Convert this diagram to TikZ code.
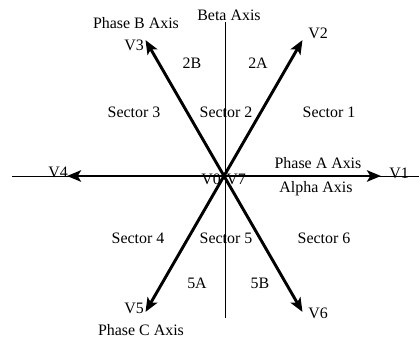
\documentclass[tikz,border=0pt]{standalone}
\usepackage{fontspec}
\setmainfont{Liberation Serif}
\usetikzlibrary{arrows.meta}
\begin{document}
\begin{tikzpicture}[x=0.03cm, y=0.03cm, font=\fontsize{13.6}{16}\selectfont,
    axis/.style={line width=0.8pt},
    vec/.style={line width=2.5pt, -{Stealth[length=4.2mm,width=3.4mm,inset=1mm]}},
    lbl/.style={inner sep=0pt}]
    \useasboundingbox (-224,-164) rectangle (195,176);
    \coordinate (O) at (0,0);

    % alpha and beta axes
    \coordinate (aL) at (-212,0);
    \coordinate (aR) at (195,0);
    \coordinate (bT) at (1,154);
    \coordinate (bB) at (1,-142);
    \draw[axis] (aL) -- (aR);
    \draw[axis] (bB) -- (bT);

    % voltage vectors
    \foreach \i/\a in {1/0,2/60,3/120,4/180,5/240,6/300}
        \coordinate (t\i) at (\a:157);
    \foreach \i in {1,...,6}
        \draw[vec] (O) -- (t\i);

    \node[lbl] (beta) at (5,161) {Beta Axis};
    \node[lbl] (phB) at (-88,153) {Phase B Axis};
    \node[lbl] (v3) at (-90,131) {V3};
    \node[lbl] (v2) at (94,143) {V2};
    \node[lbl] (s2b) at (-32,113) {2B};
    \node[lbl] (s2a) at (34,113) {2A};

    \node[lbl] (sec3) at (-90,64) {Sector 3};
    \node[lbl] (sec2) at (2,64) {Sector 2};
    \node[lbl] (sec1) at (105,64) {Sector 1};

    \node[lbl] (phA) at (94,13) {Phase A Axis};
    \node[lbl] (alpha) at (92,-13) {Alpha Axis};
    \node[lbl] (v1) at (175,3) {V1};
    \node[lbl] (v4) at (-166,4) {V4};
    \node[lbl] (v0) at (-13,-3) {V0};
    \node[lbl] (v7) at (12,-3) {V7};

    \node[lbl] (sec4) at (-86,-62) {Sector 4};
    \node[lbl] (sec5) at (2,-62) {Sector 5};
    \node[lbl] (sec6) at (100,-62) {Sector 6};
    \node[lbl] (s5a) at (-27,-107) {5A};
    \node[lbl] (s5b) at (36,-107) {5B};

    \node[lbl] (v5) at (-90,-132) {V5};
    \node[lbl] (phC) at (-83,-154) {Phase C Axis};
    \node[lbl] (v6) at (94,-137) {V6};
\end{tikzpicture}
\end{document}
